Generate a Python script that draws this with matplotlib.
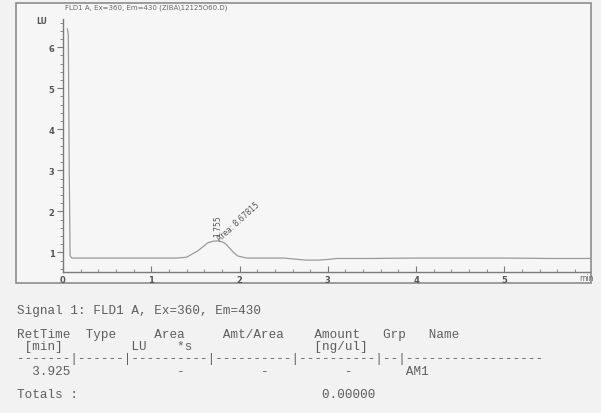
import numpy as np
import matplotlib.pyplot as plt
from matplotlib.patches import Rectangle
from matplotlib.ticker import MultipleLocator

# FLD1 A chromatogram trace (time in min, response in LU)
time_min = [0.05, 0.06, 0.07, 0.08, 0.10, 0.2, 0.5, 1.0, 1.29, 1.40, 1.53, 1.64,
            1.70, 1.76, 1.81, 1.85, 1.93, 1.98, 2.08, 2.3, 2.5, 2.6, 2.75, 2.9,
            3.02, 3.1, 3.5, 4.0, 4.5, 5.0, 5.5, 5.97]
signal_lu = [6.45, 6.3, 3.2, 0.92, 0.86, 0.86, 0.86, 0.86, 0.86, 0.88, 1.04, 1.23,
             1.27, 1.28, 1.25, 1.19, 1.00, 0.91, 0.86, 0.86, 0.86, 0.84, 0.81, 0.81,
             0.83, 0.85, 0.85, 0.86, 0.86, 0.86, 0.85, 0.85]

peak_rt = 1.755
peak_top = 1.28
peak_area = "8.67815"

title = "FLD1 A, Ex=360, Em=430 (ZIBA\\12125O60.D)"

# integration report printed under the chart
report_lines = [
    ("Signal 1: FLD1 A, Ex=360, Em=430", 311),
    ("RetTime  Type     Area     Amt/Area    Amount   Grp   Name", 335),
    (" [min]         LU    *s                [ng/ul]", 347),
    ("-------|------|----------|----------|----------|--|------------------", 359),
    ("  3.925              -          -          -       AM1", 372),
    ("Totals :                                0.00000", 395),
]

W, H = 601, 414
fig = plt.figure(figsize=(W / 100, H / 100), dpi=100)
fig.patch.set_facecolor('#f2f2f2')

# page frame around the plot
frame = Rectangle((16 / W, 1 - 284 / H), (591 - 16) / W, (284 - 4) / H,
                  transform=fig.transFigure, facecolor='#f6f6f6',
                  edgecolor='#8c8c8c', lw=1.2, zorder=-5)
fig.patches.append(frame)

ax_l, ax_r, ax_t, ax_b = 63, 590, 20, 273
ax = fig.add_axes([ax_l / W, 1 - ax_b / H, (ax_r - ax_l) / W, (ax_b - ax_t) / H])
ax.set_facecolor('none')
ax.set_zorder(2)
ax.plot(time_min, signal_lu, color='#9a9a9a', lw=0.9)

ax.set_xlim(0, 5.97)
ax.set_ylim(0.52, 6.69)
for s in ['top', 'right']:
    ax.spines[s].set_visible(False)
for s in ['left', 'bottom']:
    ax.spines[s].set_color('#7a7a7a')
    ax.spines[s].set_linewidth(1.0)

ax.xaxis.set_major_locator(MultipleLocator(1))
ax.xaxis.set_minor_locator(MultipleLocator(0.2))
ax.yaxis.set_major_locator(MultipleLocator(1))
ax.yaxis.set_minor_locator(MultipleLocator(0.2))
ax.tick_params(axis='x', which='major', direction='in', length=4, pad=2,
               labelsize=6, colors='#7a7a7a', labelcolor='#555555')
ax.tick_params(axis='x', which='minor', direction='in', length=2, colors='#7a7a7a')
ax.tick_params(axis='y', which='major', direction='out', length=4, pad=2,
               labelsize=6, colors='#7a7a7a', labelcolor='#555555')
ax.tick_params(axis='y', which='minor', direction='out', length=2, colors='#7a7a7a')
ax.set_xticks([0, 1, 2, 3, 4, 5])
ax.set_yticks([1, 2, 3, 4, 5, 6])
for lab in ax.get_xticklabels() + ax.get_yticklabels():
    lab.set_fontweight('bold')

ax.text(5.93, 0.50, "min", fontsize=5.5, color='#666666', ha='center', va='top')
fig.text(42 / W, 1 - 22 / H, "LU", fontsize=5.5, color='#555555', fontweight='bold',
         ha='center', va='center')
fig.text(65 / W, 1 - 8 / H, title, fontsize=5, color='#666666', ha='left', va='center')

# peak labels
ax.text(peak_rt, peak_top + 0.12, f"{peak_rt:.3f}", rotation=90, fontsize=5.5,
        color='#555555', ha='center', va='bottom')
ax.text(peak_rt + 0.04, peak_top - 0.03, f"Area: {peak_area}", rotation=42,
        fontsize=5.5, color='#555555', ha='left', va='bottom', rotation_mode='anchor')

for line, ypx in report_lines:
    fig.text(17 / W, 1 - ypx / H, line, family='Liberation Mono', fontsize=9.1,
             color='#5e5e5e', ha='left', va='center')

fig.savefig('out.png', dpi=100, facecolor=fig.get_facecolor())
